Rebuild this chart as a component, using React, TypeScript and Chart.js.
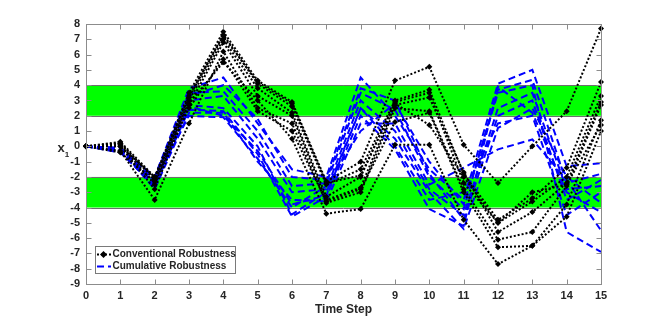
import React, { useEffect, useRef } from "react";
import { Chart, registerables } from "chart.js";

Chart.register(...registerables);

const timeSteps = [0, 1, 2, 3, 4, 5, 6, 7, 8, 9, 10, 11, 12, 13, 14, 15];

// Conventional robustness runs (black dotted, diamonds)
const conv1 = [0, 0.3, -2.0, 3.5, 7.5, 4.3, 2.9, -2.3, -1.0, 4.3, 5.2, 0.1, -2.4, 0.0, 2.3, 7.7];
const conv2 = [0, 0.2, -2.2, 3.2, 7.3, 4.1, 2.6, -2.5, -1.5, 3.0, 3.7, -1.8, -4.8, -3.4, -1.4, 4.2];
const conv3 = [0, 0.1, -2.5, 3.0, 7.0, 3.8, 2.2, -3.3, -2.0, 2.9, 3.5, -2.4, -5.0, -3.6, -2.0, 3.3];
const conv4 = [0, 0.0, -2.8, 2.7, 6.8, 3.3, 2.0, -3.5, -2.7, 2.7, 3.2, -1.7, -5.6, -4.3, -2.4, 2.9];
const conv5 = [0, -0.3, -3.5, 1.5, 6.2, 2.5, 1.5, -3.7, -3.0, 2.5, 2.3, -2.8, -6.1, -5.6, -2.6, 2.7];
const conv6 = [0, -0.4, -2.3, 2.5, 5.7, 2.3, 1.0, -3.6, -2.8, 1.6, 2.2, -3.0, -6.6, -6.5, -3.8, 1.7];
const conv7 = [0, 0.0, -2.0, 2.8, 5.5, 3.0, 0.5, -4.4, -4.1, 0.1, 0.1, -4.8, -7.7, -6.5, -4.6, 1.0];
const conv8 = [0, 0.2, -2.1, 3.3, 7.2, 4.2, 2.8, -2.4, -1.9, 2.8, 1.4, -2.0, -5.0, -3.0, -2.5, 1.4];

// Cumulative robustness runs (blue dashed)
const cum1 = [0, -0.1, -2.0, 3.8, 4.5, 1.5, -1.5, -2.0, 4.5, 2.0, -1.5, -3.5, 4.1, 5.0, -1.3, -1.1];
const cum2 = [0, -0.2, -2.2, 3.5, 3.6, 1.0, -2.6, -2.4, 3.5, 2.4, -2.0, -4.1, 3.7, 4.35, -2.4, -1.8];
const cum3 = [0, -0.3, -2.4, 3.0, 3.3, 0.5, -3.0, -2.8, 3.0, 1.0, -2.8, -4.5, 2.5, 3.5, -2.8, -2.6];
const cum4 = [0, -0.3, -2.5, 2.7, 2.5, 0.0, -4.45, -3.0, 2.5, 0.5, -3.0, -5.4, 1.2, 2.5, -2.0, -3.7];
const cum5 = [0, -0.4, -2.6, 2.4, 2.3, -0.5, -4.6, -3.3, 2.0, -0.2, -4.1, -5.2, 3.9, 2.2, -3.0, -4.3];
const cum6 = [0, -0.2, -2.8, 2.2, 2.2, -1.0, -3.5, -3.6, 1.5, 1.5, -2.5, -1.4, -0.2, 0.45, -2.2, -5.5];
const cum7 = [0, -0.1, -2.3, 2.0, 1.9, -0.8, -4.0, -2.6, 1.0, 2.8, -1.0, -3.8, 3.5, 4.0, -5.6, -6.9];
const cum8 = [0, -0.2, -2.1, 3.3, 4.0, 1.8, -2.0, -2.2, 3.8, 3.0, -1.8, -4.8, 2.0, 3.0, -3.5, -2.2];
const cum9 = [0, -0.3, -2.6, 2.6, 2.0, -0.3, -3.8, -3.2, 2.5, 0.0, -3.5, -3.0, 1.5, 2.0, -4.5, -3.0];

const conventionalRuns = [conv1, conv2, conv3, conv4, conv5, conv6, conv7, conv8];
const cumulativeRuns = [cum1, cum2, cum3, cum4, cum5, cum6, cum7, cum8, cum9];

const bandLows = [2, -4];
const bandHighs = [4, -2];

const xTicks = timeSteps;
const yTicks = [-9, -8, -7, -6, -5, -4, -3, -2, -1, 0, 1, 2, 3, 4, 5, 6, 7, 8];

const legendLabels = ["Conventional Robustness", "Cumulative Robustness"];
const xTitle = "Time Step";

const FONT = "'Liberation Sans', Arial, sans-serif";
const TXT = "#262626";
const AXIS = "#8c8c8c";

const framePlugin = {
  id: "frame",
  beforeDatasetsDraw(chart: any) {
    const { ctx, chartArea: a, scales } = chart;
    const y = scales.y;
    ctx.save();
    for (let i = 0; i < bandLows.length; i++) {
      const yt = y.getPixelForValue(bandHighs[i]);
      const yb = y.getPixelForValue(bandLows[i]);
      ctx.fillStyle = "#00ff00";
      ctx.fillRect(a.left, yt, a.right - a.left, yb - yt);
      ctx.strokeStyle = "#6e6e6e";
      ctx.lineWidth = 1;
      ctx.beginPath();
      ctx.moveTo(a.left, Math.round(yt) + 0.5);
      ctx.lineTo(a.right, Math.round(yt) + 0.5);
      ctx.moveTo(a.left, Math.round(yb) + 0.5);
      ctx.lineTo(a.right, Math.round(yb) + 0.5);
      ctx.stroke();
    }
    ctx.restore();
  },
  afterDatasetsDraw(chart: any) {
    const { ctx, chartArea: a, scales } = chart;
    const x = scales.x;
    const y = scales.y;
    ctx.save();
    // box
    ctx.strokeStyle = AXIS;
    ctx.lineWidth = 1;
    const L = Math.round(a.left) + 0.5;
    const R = Math.round(a.right) + 0.5;
    const T = Math.round(a.top) + 0.5;
    const B = Math.round(a.bottom) + 0.5;
    ctx.strokeRect(L, T, R - L, B - T);
    ctx.beginPath();
    const tl = 5;
    for (const v of xTicks) {
      const px = Math.round(x.getPixelForValue(v)) + 0.5;
      ctx.moveTo(px, B);
      ctx.lineTo(px, B - tl);
      ctx.moveTo(px, T);
      ctx.lineTo(px, T + tl);
    }
    for (const v of yTicks) {
      const py = Math.round(y.getPixelForValue(v)) + 0.5;
      ctx.moveTo(L, py);
      ctx.lineTo(L + tl, py);
      ctx.moveTo(R, py);
      ctx.lineTo(R - tl, py);
    }
    ctx.stroke();

    // axis titles
    ctx.fillStyle = TXT;
    ctx.textAlign = "center";
    ctx.textBaseline = "middle";
    ctx.font = `bold 12px ${FONT}`;
    ctx.fillText(xTitle, (a.left + a.right) / 2, 310);
    ctx.font = `bold 13px ${FONT}`;
    ctx.fillText("x", 61, 148);
    ctx.font = `bold 8px ${FONT}`;
    ctx.fillText("1", 67, 155);

    // legend
    const bx = 95.5, by = 246.5, bw = 140, bh = 27;
    ctx.fillStyle = "#ffffff";
    ctx.fillRect(bx, by, bw, bh);
    ctx.strokeStyle = "#7a7a7a";
    ctx.strokeRect(bx, by, bw, bh);
    const r1 = 254.5, r2 = 266.5;
    ctx.lineWidth = 2;
    ctx.strokeStyle = "#000000";
    ctx.setLineDash([2, 2]);
    ctx.beginPath();
    ctx.moveTo(97, r1);
    ctx.lineTo(111, r1);
    ctx.stroke();
    ctx.setLineDash([]);
    ctx.fillStyle = "#000000";
    ctx.beginPath();
    ctx.moveTo(103.5, r1 - 3.5);
    ctx.lineTo(107, r1);
    ctx.lineTo(103.5, r1 + 3.5);
    ctx.lineTo(100, r1);
    ctx.closePath();
    ctx.fill();
    ctx.strokeStyle = "#0000ff";
    ctx.setLineDash([7, 4]);
    ctx.beginPath();
    ctx.moveTo(97, r2);
    ctx.lineTo(111, r2);
    ctx.stroke();
    ctx.setLineDash([]);
    ctx.fillStyle = TXT;
    ctx.textAlign = "left";
    ctx.font = `bold 10px ${FONT}`;
    ctx.fillText(legendLabels[0], 112.5, r1);
    ctx.fillText(legendLabels[1], 112.5, r2);
    ctx.restore();
  },
};

export default function App() {
  const ref = useRef<HTMLCanvasElement | null>(null);
  useEffect(() => {
    document.body.style.margin = "0";
    const datasets: any[] = [];
    conventionalRuns.forEach((run, i) => {
      datasets.push({
        label: legendLabels[0] + " " + (i + 1),
        data: timeSteps.map((t, k) => ({ x: t, y: run[k] })),
        borderColor: "#000000",
        backgroundColor: "#000000",
        borderWidth: 2,
        borderDash: [2, 2],
        pointStyle: "rectRot",
        pointRadius: 3,
        pointBorderWidth: 0,
        tension: 0,
        clip: 8,
      });
    });
    cumulativeRuns.forEach((run, i) => {
      datasets.push({
        label: legendLabels[1] + " " + (i + 1),
        data: timeSteps.map((t, k) => ({ x: t, y: run[k] })),
        borderColor: "#0000ff",
        backgroundColor: "#0000ff",
        borderWidth: 2,
        borderDash: [7, 4],
        pointRadius: 0,
        tension: 0,
        clip: 8,
      });
    });
    const chart = new Chart(ref.current!, {
      type: "line",
      data: { datasets },
      plugins: [framePlugin],
      options: {
        animation: false,
        responsive: false,
        devicePixelRatio: 1,
        layout: { padding: { left: 0, right: 63, top: 24, bottom: 0 } },
        plugins: { legend: { display: false }, tooltip: { enabled: false } },
        scales: {
          x: {
            type: "linear",
            min: 0,
            max: 15,
            afterBuildTicks: (s: any) => {
              s.ticks = xTicks.map((v) => ({ value: v }));
            },
            afterFit: (s: any) => {
              s.height = 36;
            },
            grid: { display: false, drawTicks: false },
            border: { display: false },
            ticks: {
              color: TXT,
              font: { family: FONT, size: 11, weight: "bold" },
              padding: 5,
              maxRotation: 0,
              autoSkip: false,
            },
          },
          y: {
            type: "linear",
            min: -9,
            max: 8,
            afterBuildTicks: (s: any) => {
              s.ticks = yTicks.map((v) => ({ value: v }));
            },
            afterFit: (s: any) => {
              s.width = 86;
            },
            grid: { display: false, drawTicks: false },
            border: { display: false },
            ticks: {
              color: TXT,
              font: { family: FONT, size: 11, weight: "bold" },
              padding: 6,
              autoSkip: false,
            },
          },
        },
      },
    });
    return () => chart.destroy();
  }, []);
  return (
    <div style={{ position: "absolute", left: 0, top: 0, width: 664, height: 320 }}>
      <canvas ref={ref} width={664} height={320} style={{ width: 664, height: 320 }} />
    </div>
  );
}
